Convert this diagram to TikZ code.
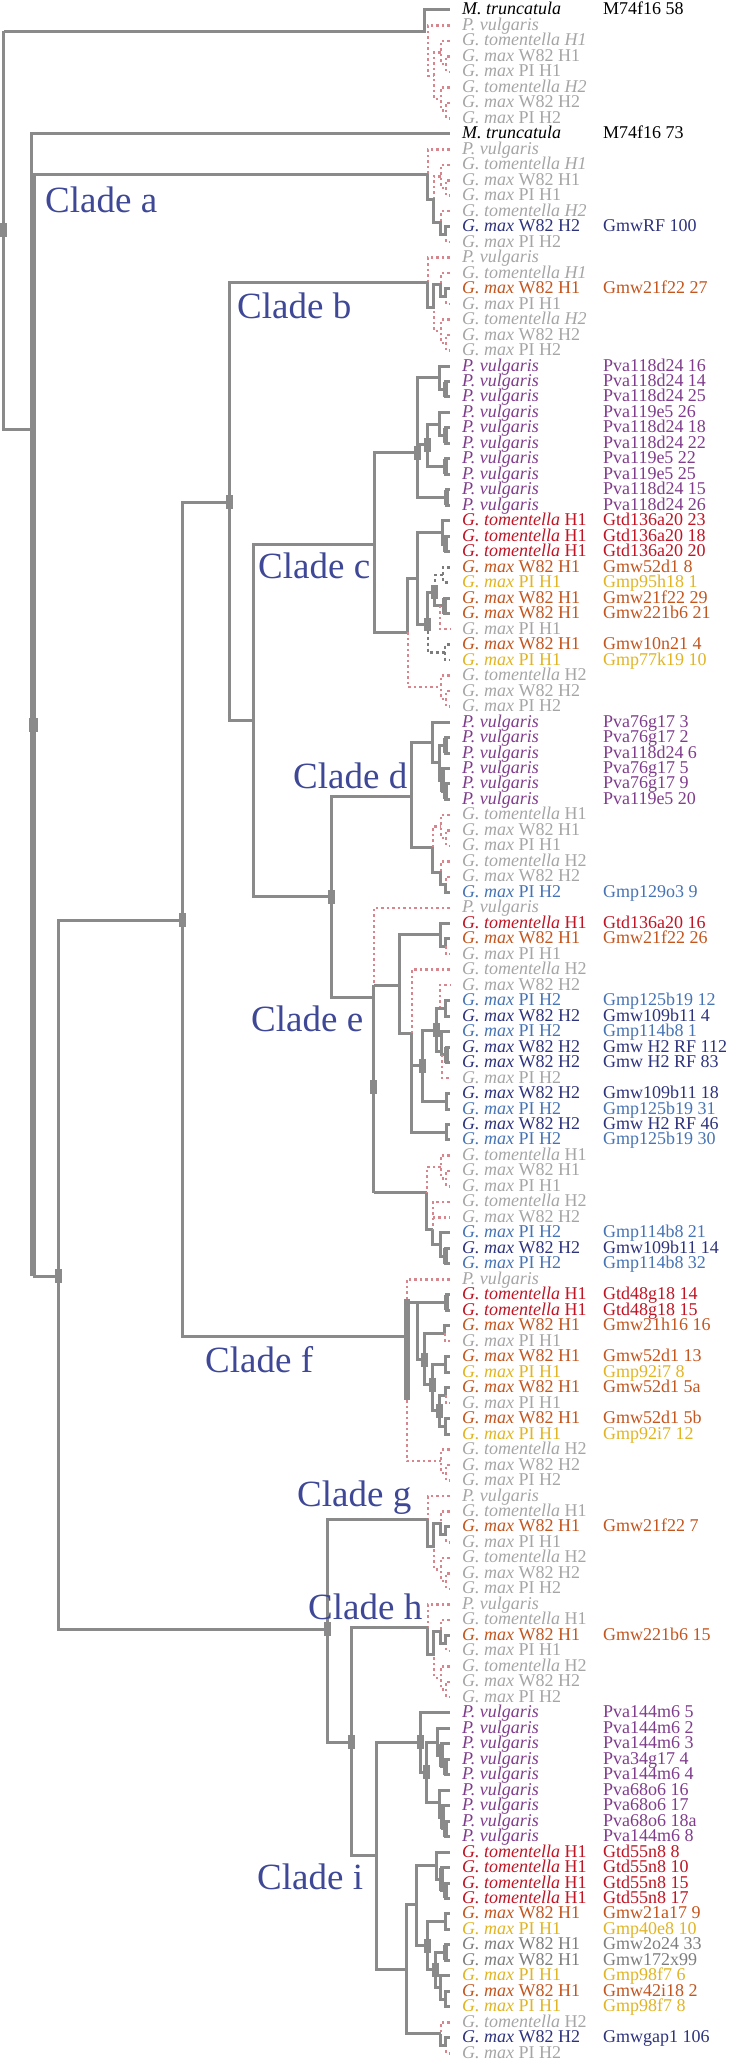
\documentclass[tikz,border=0pt]{standalone}
\usepackage{fontspec}
\setmainfont{Liberation Serif}

\definecolor{treegray}{RGB}{138,138,138}
\definecolor{ghostpink}{RGB}{214,134,140}
\definecolor{ghostgray}{RGB}{165,165,165}
\definecolor{pvpurple}{RGB}{128,60,140}
\definecolor{gtred}{RGB}{190,20,35}
\definecolor{wborange}{RGB}{195,85,30}
\definecolor{piyellow}{RGB}{225,180,35}
\definecolor{wbblue}{RGB}{45,50,125}
\definecolor{piblue}{RGB}{70,115,180}
\definecolor{midgray}{RGB}{125,125,125}
\definecolor{cladeblue}{RGB}{62,72,150}

\newcommand{\leafsize}{\fontsize{18}{18}\selectfont}
\newcommand{\cladesize}{\fontsize{37}{37}\selectfont}
\newcommand{\sMt}{\textit{M. truncatula}}
\newcommand{\sPv}{\textit{P. vulgaris}}
\newcommand{\sGt}[1]{\textit{G. tomentella} #1}
\newcommand{\sW}[1]{\textit{G. max} W82 H#1}
\newcommand{\sP}[1]{\textit{G. max} PI H#1}

\tikzset{
  br/.style={draw=treegray, line width=3pt},
  brt/.style={draw=treegray, line width=5pt},
  brthick/.style={draw=treegray, line width=6pt},
  gh/.style={draw=ghostpink, line width=2.5pt, dash pattern=on 2.5pt off 3pt},
  gd/.style={draw=treegray!90!black, line width=2.5pt, dash pattern=on 3pt off 3pt},
  nmark/.style={draw=treegray, line width=7pt},
  sp/.style={anchor=base west, inner sep=0pt, font=\leafsize, yshift=-5pt},
  idl/.style={anchor=base west, inner sep=0pt, font=\leafsize, yshift=-5pt},
  clade/.style={anchor=base west, inner sep=0pt, font=\cladesize, text=cladeblue},
}

% x in px, y in rows
\newcommand{\nodemark}[2]{\draw[nmark] (#1,{#2-0.45}) -- (#1,{#2+0.45});}
\newcommand{\tippair}[3]{\draw[#1] (450,#2) -| (#3,{#2+1}) -- (450,{#2+1});}
\newcommand{\tiptrip}[3]{%
  \draw[#1] (450,#2) -| (#3,{#2+1.5}) -- (446,{#2+1.5});
  \draw[#1] (450,{#2+1}) -| (446,{#2+2}) -- (450,{#2+2});}
\newcommand{\ghtrip}[2]{\tiptrip{gh}{#1}{#2}}
\newcommand{\ghset}[2]{%
  \draw[gh] (450,#1) -| (#2,{#1+3.25}) -- (434,{#1+3.25})
            (441,{#1+1.75}) -| (434,{#1+4.75}) -- (441,{#1+4.75});
  \ghtrip{#1+1}{441}\ghtrip{#1+4}{441}}
\newcommand{\hisecond}[2]{%
  \draw[br] (428,#2) -- (428,{#1+3.25}) -- (434,{#1+3.25}) -- (434,{#1+1.75})
    -- (441,{#1+1.75}) -- (441,{#1+2.5}) -- (446,{#1+2.5}) -- (446,{#1+2}) -- (450,{#1+2});}
\newcommand{\leafrow}[4]{%
  \node[sp, text=#3] (sp#1) at (462,#1) {#2};
  \node[idl, text=#3] (id#1) at (603,#1) {#4};}

\begin{document}
\begin{tikzpicture}[x=1pt, y=-15.48pt]
  \useasboundingbox (0,0.354) rectangle (735,133.63);

  % ghost (absent) members
  \ghset{2}{428}
  \ghset{10}{428}
  \ghset{17}{428}
  \ghset{97}{428}
  \ghset{104}{428}

  % backbone
  \draw[br] (4,2.36) -- (4,28.1) -- (32,28.1);
  \draw[br] (4,2.36) -- (425,2.36) |- (450,1);
  \draw[br] (450,9) -| (32,47.2);
  \draw[brthick] (33,11.6) -- (33,82.8);
  \draw[br] (33,11.6) -- (428,11.6);
  \draw[br] (33,82.8) -- (59,82.8);
  \draw[br] (183,59.8) -| (59,105.6) -- (328,105.6);
  \draw[br] (230,32.8) -| (183,86.7) -- (407,86.7);
  \draw[br] (428,18.6) -| (230,46.9) -- (254,46.9);
  \draw[br] (375,35.5) -| (254,58.3) -- (332,58.3);
  \draw[br] (412,51.8) -| (332,64.8) -- (374,64.8);
  \draw[br] (428,98.5) -| (328,112.9) -- (352,112.9);
  \draw[br] (428,105.5) -| (352,120.2) -- (377,120.2);
  \draw[br] (421,112.9) -| (377,127.6) -- (407,127.6);

  % clade a, b, g, h
  \draw[br] (428,11.6) -- (428,13.25) -- (434,13.25) -- (434,14.75) -- (441,14.75)
    -- (441,15.5) -- (446,15.5) -- (446,15) -- (450,15);
  \hisecond{17}{18.6}
  \hisecond{97}{98.5}
  \hisecond{104}{105.5}

  % clade c
  \draw[br] (418,29.6) -| (375,41.2) -- (408,41.2);
  \draw[br] (440,24.75) -| (418,32.5) -- (447,32.5);
  \draw[br] (418,29.1) -- (428,29.1);
  \tiptrip{br}{24}{440}
  \draw[br] (440,27.75) -| (428,30.5) -- (446,30.5);
  \tiptrip{br}{27}{440}
  \tippair{br}{30}{446}
  \tippair{br}{32}{447}
  \draw[brt] (446,25) -- (446,26) (446,28) -- (446,29) (446,30) -- (446,31) (447,32) -- (447,33);
  \tiptrip{br}{34}{443}
  \draw[brt] (446,35) -- (446,36);
  \draw[br] (443,34.75) -| (418,40.7) -- (428,40.7);
  \draw[br] (418,37.7) -| (408,41.2);
  \draw[gh] (408,41.2) |- (441,44.75);
  \ghtrip{44}{441}
  \draw[br] (435,38.6) -| (428,40.7);
  \draw[gd] (428,40.7) |- (445,42.5);
  \tippair{gd}{42}{445}
  \draw[gd] (443,37.5) -| (435,38.6);
  \tippair{gd}{37}{443}
  \draw[br] (435,38.6) |- (445,39.5);
  \tippair{br}{39}{445}
  \draw[brt] (445,39) -- (445,40);
  \draw[gh] (440,39.5) |- (450,41);

  % clade d
  \draw[br] (433,48.3) -| (412,55.1) -- (433,55.1);
  \draw[br] (450,47) -| (433,49.6) -- (440,49.6);
  \draw[br] (446,48.5) -| (440,50.75) -- (443,50.75);
  \tippair{br}{48}{446}
  \tiptrip{br}{50}{443}
  \draw[brt] (446,48) -- (446,49) (443,50) -- (443,51.5) (446,51) -- (446,52);
  \draw[gh] (433,55.1) |- (441,53.75);
  \ghtrip{53}{441}
  \ghtrip{56}{441}
  \draw[br] (433,55.1) |- (441,56.75) |- (446,57.5) |- (450,58);

  % clade e
  \draw[gh] (450,59) -| (374,64.8);
  \draw[br] (374,64) -- (374,77.4);
  \draw[br] (374,64) -- (400,64);
  \draw[br] (441,60.75) -| (400,67.1) -- (412,67.1);
  \draw[br] (450,60) -| (441,61.5) -- (446,61.5) |- (450,61);
  \draw[gh] (446,61.5) |- (450,62);
  \draw[gh] (450,63) -| (412,67.1);
  \draw[gh] (440,65.5) |- (450,64);
  \draw[br] (412,67.1) |- (447,73.5);
  \tippair{br}{73}{447}
  \draw[br] (412,69.2) -- (423,69.2);
  \draw[br] (437,66.9) -| (423,71.5) -- (447,71.5);
  \tippair{br}{71}{447}
  \draw[br] (446,65.5) -| (437,68.3) -- (442,68.3);
  \tippair{br}{65}{446}
  \draw[br] (450,67) -| (442,68.5) -- (447,68.5);
  \tippair{br}{68}{447}
  \draw[brt] (447,68) -- (447,69);
  \draw[gh] (442,68.5) |- (450,70);
  \draw[br] (374,77.4) -- (427,77.4);
  \draw[gh] (441,75.75) -| (427,77.4);
  \ghtrip{75}{441}
  \draw[br] (427,77.4) |- (433,79.8);
  \draw[gh] (450,78) -| (433,79.8);
  \draw[gh] (433,79) -- (450,79);
  \draw[br] (433,79.8) |- (441,80.75);
  \tiptrip{br}{80}{441}
  \draw[brt] (446,81) -- (446,82);

  % clade f
  \draw[gh] (450,83) -| (407,84.3);
  \draw[brthick] (407,84.3) -- (407,90.8);
  \draw[gh] (407,90.8) |- (441,94.75);
  \ghtrip{94}{441}
  \draw[br] (407,84.5) -- (447,84.5);
  \tippair{br}{84}{447}
  \draw[brt] (447,84) -- (447,85);
  \draw[br] (418,84.5) -- (418,88.2) -- (425,88.2);
  \draw[br] (445,86.5) -| (425,89.8) -- (433,89.8);
  \draw[br] (450,86) -| (445,86.5);
  \draw[gh] (445,86.5) |- (450,87);
  \draw[br] (446,88.5) -| (433,91.5) -- (440,91.5);
  \tippair{br}{88}{446}
  \draw[br] (446,90.5) -| (440,92.5) -- (446,92.5);
  \draw[br] (450,90) -| (446,90.5);
  \draw[gh] (446,90.5) |- (450,91);
  \tippair{br}{92}{446}

  % clade i
  \draw[br] (450,111) -| (421,114.85) -- (427,114.85);
  \draw[br] (438,112.9) -| (427,116.8) -- (440,116.8);
  \draw[br] (450,112) -| (438,113.75) -- (442,113.75);
  \draw[br] (450,113) -| (442,114.5) -- (446,114.5);
  \tippair{br}{114}{446}
  \draw[brt] (442,113) -- (442,114.5) (446,114) -- (446,115);
  \draw[br] (450,116) -| (440,117.75) -- (443,117.75);
  \tiptrip{br}{117}{443}
  \draw[brt] (443,117) -- (443,118.5) (446,118) -- (446,119);
  \draw[br] (417,123.4) -| (407,131.75) -- (441,131.75);
  \ghtrip{131}{441}
  \draw[br] (441,131.75) -- (441,132.5) -- (446,132.5) -- (446,132) -- (450,132);
  \draw[br] (437,120.875) -| (417,126.05) -- (428,126.05);
  \draw[br] (450,120) -| (437,121.75) -- (442,121.75);
  \tiptrip{br}{121}{442}
  \draw[brt] (442,121) -- (442,122.5) (446,122) -- (446,123);
  \draw[br] (446,124.5) -| (428,127.6) -- (436,127.6);
  \tippair{br}{124}{446}
  \draw[br] (446,126.5) -| (436,128.75) -- (441,128.75);
  \tippair{br}{126}{446}
  \draw[brt] (446,126) -- (446,127);
  \tiptrip{br}{128}{441}

  % node marks
  \nodemark{4}{15.2}
  \draw[nmark, line width=9pt] (34,46.75) -- (34,47.65);
  \nodemark{230}{32.8}
  \nodemark{183}{59.8}
  \nodemark{59}{82.8}
  \nodemark{332}{58.3}
  \nodemark{418}{29.6}
  \nodemark{428}{29.1}
  \nodemark{435}{38.6}
  \nodemark{428}{40.7}
  \nodemark{374}{70.6}
  \nodemark{423}{69.2}
  \nodemark{437}{66.9}
  \nodemark{425}{88.2}
  \nodemark{433}{89.8}
  \nodemark{440}{91.5}
  \nodemark{328}{105.6}
  \nodemark{352}{112.9}
  \nodemark{421}{112.9}
  \nodemark{427}{114.85}
  \nodemark{428}{126.05}
  \nodemark{436}{127.6}

  % clade names
  \node[clade] (cladeA) at (45,14.05) {Clade a};
  \node[clade] (cladeB) at (237,20.96) {Clade b};
  \node[clade] (cladeC) at (258,37.7) {Clade c};
  \node[clade] (cladeD) at (293,51.3) {Clade d};
  \node[clade] (cladeE) at (251,67.0) {Clade e};
  \node[clade] (cladeF) at (205,89.05) {Clade f};
  \node[clade] (cladeG) at (297,97.7) {Clade g};
  \node[clade] (cladeH) at (308,105.0) {Clade h};
  \node[clade] (cladeI) at (257,122.4) {Clade i};

  % absent members (grey, no id)
  \foreach \n/\s in {2/\sPv, 3/{\textit{G. tomentella H1}}, 4/{\sW1}, 5/{\sP1},
      6/{\textit{G. tomentella H2}}, 7/{\sW2}, 8/{\sP2},
      10/\sPv, 11/{\textit{G. tomentella H1}}, 12/{\sW1}, 13/{\sP1},
      14/{\textit{G. tomentella H2}}, 16/{\sP2},
      17/\sPv, 18/{\textit{G. tomentella H1}}, 20/{\sP1},
      21/{\textit{G. tomentella H2}}, 22/{\sW2}, 23/{\sP2},
      41/{\sP1}, 44/{\sGt{H2}}, 45/{\sW2}, 46/{\sP2},
      53/{\sGt{H1}}, 54/{\sW1}, 55/{\sP1}, 56/{\sGt{H2}}, 57/{\sW2},
      59/\sPv, 62/{\sP1}, 63/{\sGt{H2}}, 64/{\sW2}, 70/{\sP2},
      75/{\sGt{H1}}, 76/{\sW1}, 77/{\sP1}, 78/{\sGt{H2}}, 79/{\sW2},
      83/\sPv, 87/{\sP1}, 91/{\sP1}, 94/{\sGt{H2}}, 95/{\sW2}, 96/{\sP2},
      97/\sPv, 98/{\sGt{H1}}, 100/{\sP1}, 101/{\sGt{H2}}, 102/{\sW2}, 103/{\sP2},
      104/\sPv, 105/{\sGt{H1}}, 107/{\sP1}, 108/{\sGt{H2}}, 109/{\sW2}, 110/{\sP2},
      131/{\sGt{H2}}, 133/{\sP2}}
    \node[sp, text=ghostgray] (sp\n) at (462,\n) {\s};

  % sequences
  \foreach \n/\t in {1/M74f16 58, 9/M74f16 73}
    {\leafrow{\n}{\sMt}{black}{\t}}
  \foreach \n/\t in {24/Pva118d24 16, 25/Pva118d24 14, 26/Pva118d24 25,
      27/Pva119e5 26, 28/Pva118d24 18, 29/Pva118d24 22, 30/Pva119e5 22,
      31/Pva119e5 25, 32/Pva118d24 15, 33/Pva118d24 26,
      47/Pva76g17 3, 48/Pva76g17 2, 49/Pva118d24 6, 50/Pva76g17 5,
      51/Pva76g17 9, 52/Pva119e5 20,
      111/Pva144m6 5, 112/Pva144m6 2, 113/Pva144m6 3, 114/Pva34g17 4,
      115/Pva144m6 4, 116/Pva68o6 16, 117/Pva68o6 17, 118/Pva68o6 18a,
      119/Pva144m6 8}
    {\leafrow{\n}{\sPv}{pvpurple}{\t}}
  \foreach \n/\t in {34/Gtd136a20 23, 35/Gtd136a20 18, 36/Gtd136a20 20,
      60/Gtd136a20 16, 84/Gtd48g18 14, 85/Gtd48g18 15,
      120/Gtd55n8 8, 121/Gtd55n8 10, 122/Gtd55n8 15, 123/Gtd55n8 17}
    {\leafrow{\n}{\sGt{H1}}{gtred}{\t}}
  \foreach \n/\t in {19/Gmw21f22 27, 37/Gmw52d1 8, 39/Gmw21f22 29,
      40/Gmw221b6 21, 42/Gmw10n21 4, 61/Gmw21f22 26, 86/Gmw21h16 16,
      88/Gmw52d1 13, 90/Gmw52d1 5a, 92/Gmw52d1 5b, 99/Gmw21f22 7,
      106/Gmw221b6 15, 124/Gmw21a17 9, 129/Gmw42i18 2}
    {\leafrow{\n}{\sW1}{wborange}{\t}}
  \foreach \n/\t in {38/Gmp95h18 1, 43/Gmp77k19 10, 89/Gmp92i7 8,
      93/Gmp92i7 12, 125/Gmp40e8 10, 128/Gmp98f7 6, 130/Gmp98f7 8}
    {\leafrow{\n}{\sP1}{piyellow}{\t}}
  \foreach \n/\t in {15/GmwRF 100, 66/Gmw109b11 4, 68/Gmw H2 RF 112,
      69/Gmw H2 RF 83, 71/Gmw109b11 18, 73/Gmw H2 RF 46,
      81/Gmw109b11 14, 132/Gmwgap1 106}
    {\leafrow{\n}{\sW2}{wbblue}{\t}}
  \foreach \n/\t in {58/Gmp129o3 9, 65/Gmp125b19 12, 67/Gmp114b8 1,
      72/Gmp125b19 31, 74/Gmp125b19 30, 80/Gmp114b8 21, 82/Gmp114b8 32}
    {\leafrow{\n}{\sP2}{piblue}{\t}}
  \foreach \n/\t in {126/Gmw2o24 33, 127/Gmw172x99}
    {\leafrow{\n}{\sW1}{midgray}{\t}}
\end{tikzpicture}
\end{document}
